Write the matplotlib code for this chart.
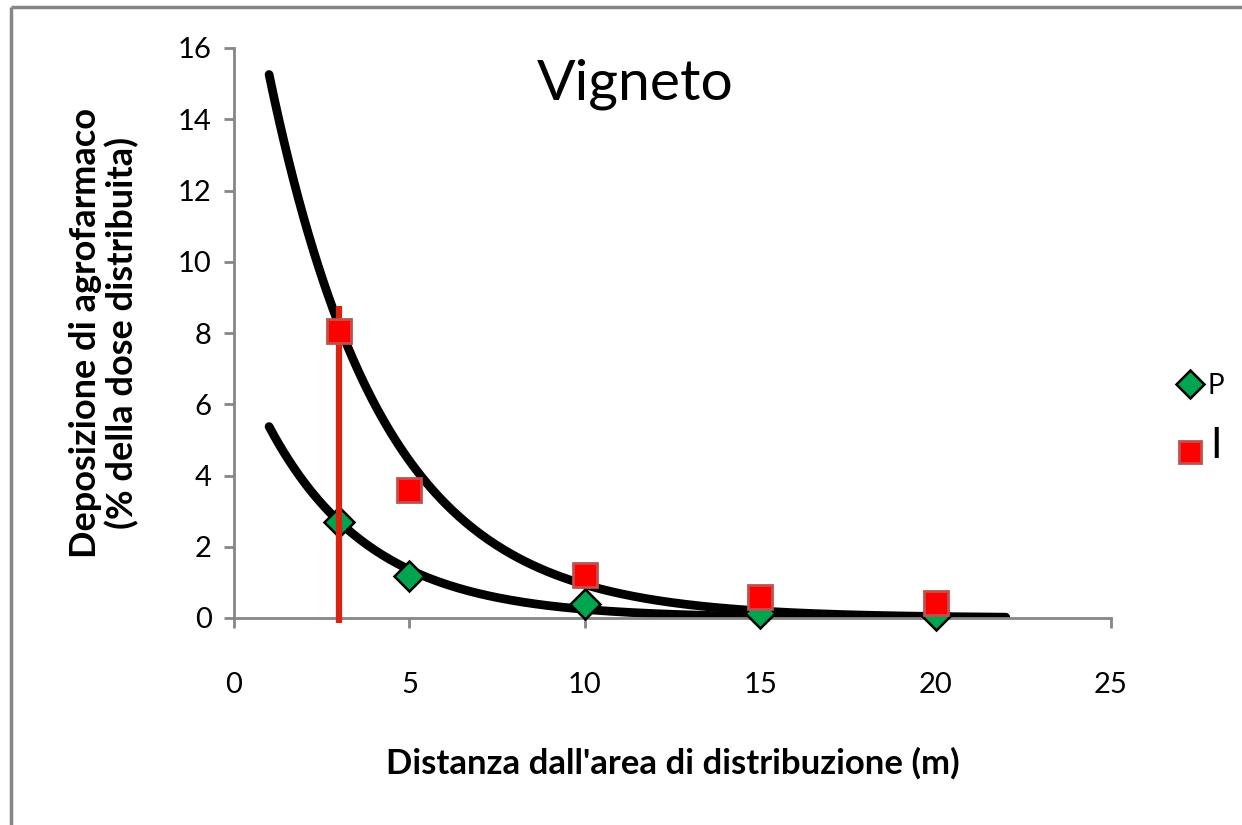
import numpy as np
import matplotlib.pyplot as plt
from matplotlib.lines import Line2D

# measured data
distance = [3, 5, 10, 15, 20]
dep_p = [2.7, 1.18, 0.39, 0.14, 0.08]
dep_i = [8.05, 3.6, 1.22, 0.59, 0.42]

# exponential trend lines y = a * exp(-b x), drawn from x=1 to x=22
trend_p = (7.58, 0.344)
trend_i = (20.8, 0.31)
trend_range = (1, 22)

# red marker line at x=3
mark_x = 3
mark_y = (-0.15, 8.75)

x_ticks = [0, 5, 10, 15, 20, 25]
y_ticks = [0, 2, 4, 6, 8, 10, 12, 14, 16]

title = 'Vigneto'
x_label = "Distanza dall'area di distribuzione (m)"
y_label = 'Deposizione di agrofarmaco\n(% della dose distribuita)'
series_names = ['P', 'I']

plt.rcParams['font.family'] = ['Lato', 'DejaVu Sans']
grey = '#868686'
W, H = 1242, 825

fig = plt.figure(figsize=(W / 100, H / 100), dpi=100)
ax = fig.add_axes([234 / W, 1 - 618 / H, (1111 - 234) / W, (618 - 48) / H])

xx = np.linspace(trend_range[0], trend_range[1], 300)
for a, b in (trend_p, trend_i):
    ax.plot(xx, a * np.exp(-b * xx), color='black', lw=6.3, solid_capstyle='round', zorder=2)

ax.vlines(mark_x, mark_y[0], mark_y[1], color='#D9230F', lw=4.5, zorder=4, clip_on=False)

p_style = dict(marker='D', markerfacecolor='#00A550', markeredgecolor='black', markeredgewidth=1.8)
i_style = dict(marker='s', markerfacecolor='#FF0000', markeredgecolor='#C0504D', markeredgewidth=2.0)

ax.plot(distance, dep_p, ls='none', markersize=15, zorder=3, clip_on=False, **p_style)
ax.plot(distance, dep_i, ls='none', markersize=17.5, zorder=5, clip_on=False, **i_style)

ax.set_xlim(0, 25)
ax.set_ylim(0, 16)
ax.set_xticks(x_ticks)
ax.set_yticks(y_ticks)
for side in ('top', 'right'):
    ax.spines[side].set_visible(False)
for side in ('left', 'bottom'):
    ax.spines[side].set_color(grey)
    ax.spines[side].set_linewidth(2)
ax.tick_params(axis='both', direction='out', length=7, width=2, color=grey, labelsize=21)
ax.tick_params(axis='y', pad=9)
ax.tick_params(axis='x', pad=32)

ax.set_xlabel(x_label, fontsize=25, fontweight='bold', labelpad=35)
ax.set_ylabel(y_label, fontsize=26, fontweight='bold', labelpad=28, linespacing=1.1)
ax.text(0.457, 0.937, title, transform=ax.transAxes, fontsize=41, ha='center', va='center')

# legend entries on the right, no frame
fig.add_artist(Line2D([1190 / W], [1 - 384 / H], ls='none', markersize=14, **p_style))
fig.add_artist(Line2D([1190 / W], [1 - 452 / H], ls='none', markersize=16, **i_style))
fig.text(1208 / W, 1 - 386 / H, series_names[0], fontsize=20, va='center', ha='left')
fig.text(1210 / W, 1 - 446 / H, series_names[1], fontsize=30, va='center', ha='left')

# grey frame edges visible at top and left
fig.add_artist(Line2D([11 / W, 1], [1 - 7 / H, 1 - 7 / H], color=grey, lw=2.5, solid_capstyle='butt'))
fig.add_artist(Line2D([11 / W, 11 / W], [0, 1 - 7 / H], color=grey, lw=2.5, solid_capstyle='butt'))

fig.savefig('out.png', dpi=100)
